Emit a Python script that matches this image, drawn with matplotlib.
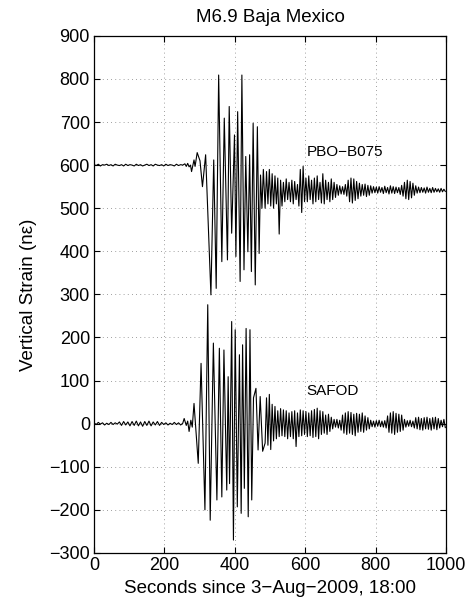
import numpy as np
import matplotlib
matplotlib.use('Agg')
import matplotlib.pyplot as plt

# Quiet stretch before the arrivals, sampled every 6 s from t=0
pre_step = 6
pbo_pre = [601, 599, 602, 598, 601, 600, 602, 599, 601, 598, 602, 600, 599, 601,
           598, 602, 599, 601, 600, 598, 602, 599, 601, 598, 600, 602, 599, 601,
           598, 602, 600, 599, 601, 598, 602, 599, 601, 600, 598, 602, 599, 601, 600]
safod_pre = [2, -2, 3, -1, 2, -3, 1, -2, 3, -2, 2, -1, 4, -4, 5, -3, 4, -5, 5, -4,
             6, -5, 4, -6, 5, -4, 6, -5, 4, -3, 5, -4, 3, -2, 2, -3, 1, -2, 3, -2,
             2, -3, 1]

# Main surface-wave packet, picked peak by peak
pbo_main_t = [258, 262, 266, 270, 274, 277, 284, 287, 293, 301, 308, 317, 332, 340,
              347, 354, 363, 370, 379, 384, 391, 399, 403, 408, 415, 420, 426, 431,
              437, 442, 447, 452, 458, 464, 469, 473, 477, 481]
pbo_main = [603, 597, 604, 596, 600, 585, 612, 597, 629, 610, 550, 624, 299, 612,
            314, 809, 376, 709, 380, 736, 442, 670, 388, 724, 330, 809, 357, 620,
            399, 624, 353, 697, 322, 689, 395, 577, 500, 590]

safod_main_t = [256, 262, 266, 270, 275, 279, 284, 296, 304, 315, 323, 330, 339, 349,
                356, 363, 369, 377, 381, 385, 391, 396, 401, 407, 413, 418, 422, 427,
                432, 438, 443, 448, 453, 460, 466, 472, 479]
safod_main = [12, -4, 6, -18, 8, -8, 47, -92, 140, -200, 276, -224, 187, -177,
              175, -170, 171, -154, 109, -139, 237, -270, 218, -193, 160, -208, 183, -150,
              221, -216, 218, -177, 60, 82, -61, 63, -64]

# Coda, sampled every 4 s from t=486
coda_start = 486
coda_step = 4
pbo_coda = [500, 585, 510, 590, 505, 580, 500, 575, 510, 570, 440, 565, 505, 560,
            515, 568, 520, 560, 515, 565, 510, 562, 520, 555, 505, 590, 490, 597,
            515, 570, 515, 575, 520, 565, 510, 570, 515, 575, 520, 560, 512, 580,
            510, 565, 520, 560, 515, 568, 520, 560, 525, 555, 530, 552, 533, 550,
            532, 555, 528, 565, 515, 570, 512, 568, 518, 562, 522, 558, 528, 555,
            530, 556, 527, 553, 530, 552, 535, 550, 536, 549, 535, 550, 537, 548,
            534, 551, 536, 548, 533, 552, 535, 550, 534, 549, 536, 548, 532, 553,
            528, 560, 522, 565, 520, 562, 524, 558, 530, 552, 535, 549, 536, 548,
            537, 547, 535, 549, 537, 546, 536, 548, 537, 546, 538, 545, 537, 546,
            538, 544, 539]
safod_coda = [-45, 60, -50, 68, -60, 45, -40, 40, -35, 30, -30, 35, -28, 32,
              -30, 30, -35, 25, -30, 28, -35, 30, -53, 25, -30, 32, -28, 30,
              -25, 28, -30, 25, -28, 30, -32, 33, -30, 36, -35, 30, -25, 28,
              -22, 20, -25, 22, -18, 15, -12, 10, -8, 10, -10, 8, -15, 20,
              -22, 25, -25, 28, -22, 26, -25, 22, -28, 24, -20, 22, -18, 25,
              -20, 18, -15, 14, -12, 8, -7, 6, -8, 7, -6, 8, -7, 6,
              -8, 7, -10, 18, -20, 25, -22, 28, -25, 24, -20, 22, -18, 20,
              -15, 10, -8, 7, -6, 8, -7, 6, -10, 14, -12, 15, -14, 12,
              -15, 14, -12, 15, -13, 12, -15, 14, -12, 15, -14, 12, -10, 8,
              -7, 10, -9]


def build_trace(pre, main_t, main, coda):
    t = np.concatenate([np.arange(len(pre)) * pre_step,
                        main_t,
                        coda_start + np.arange(len(coda)) * coda_step])
    v = np.concatenate([pre, main, coda])
    return t, v


plt.rcParams['font.family'] = ['Liberation Sans', 'DejaVu Sans']

fig = plt.figure(figsize=(4.68, 6.07), dpi=100)
ax = fig.add_axes([0.201, 0.089, 0.752, 0.852])

t, v = build_trace(pbo_pre, pbo_main_t, pbo_main, pbo_coda)
ax.plot(t, v, color='black', linewidth=0.8)
t, v = build_trace(safod_pre, safod_main_t, safod_main, safod_coda)
ax.plot(t, v, color='black', linewidth=0.8)

ax.text(603, 614, 'PBO\u2212B075', fontsize=11, va='bottom', ha='left')
ax.text(603, 60, 'SAFOD', fontsize=11, va='bottom', ha='left')

ax.set_xlim(0, 1000)
ax.set_ylim(-300, 900)
ax.set_xticks(np.arange(0, 1001, 200))
ax.set_yticks(np.arange(-300, 901, 100))
ax.tick_params(direction='in', top=True, right=True, labelsize=13, length=4,
               width=0.8, pad=3)
ax.grid(True, linestyle=(0, (1, 4)), color='black', linewidth=0.6, alpha=0.5)
for s in ax.spines.values():
    s.set_linewidth(0.9)

ax.set_title('M6.9 Baja Mexico', fontsize=13.5, pad=10)
ax.set_xlabel('Seconds since 3\u2212Aug\u22122009, 18:00', fontsize=13.5, labelpad=4)
ax.set_ylabel('Vertical Strain (n\u03b5)', fontsize=13.5, labelpad=9)

fig.savefig('out.png', dpi=100)
